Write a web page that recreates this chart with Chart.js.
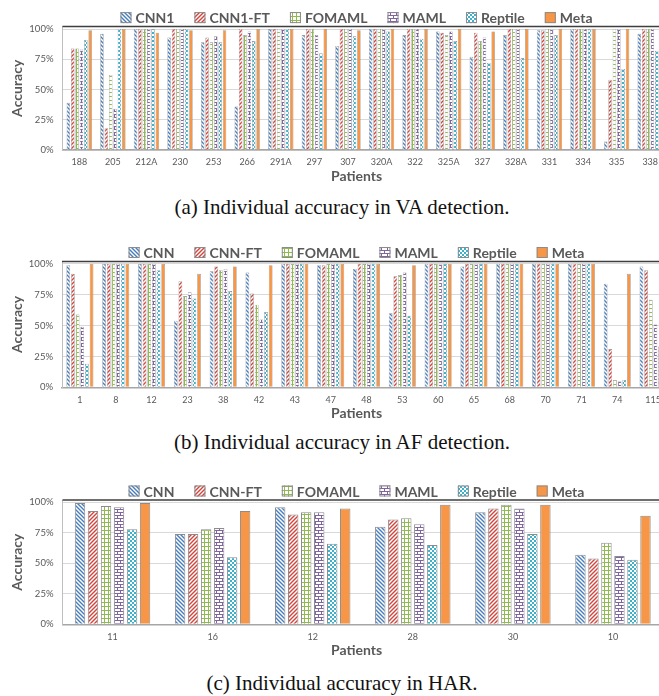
<!DOCTYPE html>
<html>
<head>
<meta charset="utf-8">
<script src="https://cdn.jsdelivr.net/npm/chart.js@4.4.1/dist/chart.umd.min.js"></script>
<style>
    html, body { margin: 0; padding: 0; background: #fff; }
    body { width: 659px; height: 696px; overflow: hidden; position: relative; }
    canvas { position: absolute; left: 0; }
    .cap {
        position: absolute; left: 0; width: 684px; text-align: center;
        font-family: "Liberation Serif", "DejaVu Serif", serif; font-size: 21px;
        line-height: 24px; color: #111; white-space: nowrap;
    }
</style>
</head>
<body>
<canvas id="vaChart"></canvas>
<canvas id="afChart"></canvas>
<canvas id="harChart"></canvas>
<div class="cap" style="top:195px">(a) Individual accuracy in VA detection.</div>
<div class="cap" style="top:430px">(b) Individual accuracy in AF detection.</div>
<div class="cap" style="top:671px">(c) Individual accuracy in HAR.</div>

<script>
// (a) VA detection
const vaPatients = ['188', '205', '212A', '230', '253', '266', '291A', '297', '307', '320A', '322', '325A', '327', '328A', '331', '334', '335', '338'];
const vaNames = ['CNN1', 'CNN1-FT', 'FOMAML', 'MAML', 'Reptile', 'Meta'];
const vaCNN1    = [39, 96, 100, 93, 89, 36, 100, 95, 86, 100, 95, 98, 77, 95, 99, 100, 7, 96];
const vaCNN1FT  = [84, 18, 100, 100, 93, 100, 100, 100, 100, 100, 100, 97, 97, 100, 99, 100, 58, 100];
const vaFOMAML  = [84, 62, 100, 100, 89, 95, 100, 100, 100, 100, 100, 95, 90, 100, 100, 100, 100, 100];
const vaMAML    = [83, 34, 100, 100, 94, 98, 100, 95, 100, 100, 100, 98, 93, 100, 100, 100, 100, 100];
const vaReptile = [91, 100, 100, 100, 89, 90, 100, 80, 94, 98, 92, 90, 72, 76, 95, 100, 67, 82];
const vaMeta    = [99, 100, 97, 99, 99, 100, 100, 100, 99, 100, 100, 100, 98, 100, 100, 100, 100, 99];

// (b) AF detection
const afPatients = ['1', '8', '12', '23', '38', '42', '43', '47', '48', '53', '60', '65', '68', '70', '71', '74', '115'];
const afNames = ['CNN', 'CNN-FT', 'FOMAML', 'MAML', 'Reptile', 'Meta'];
const afCNN     = [99, 100, 100, 54, 94, 93, 100, 99, 96, 60, 100, 98, 100, 100, 100, 84, 98];
const afCNNFT   = [92, 100, 100, 86, 98, 76, 100, 99, 100, 90, 100, 100, 100, 100, 100, 31, 95];
const afFOMAML  = [59, 100, 100, 74, 95, 67, 100, 100, 100, 91, 100, 100, 100, 100, 100, 6, 71];
const afMAML    = [49, 100, 100, 77, 96, 55, 100, 100, 100, 93, 100, 100, 100, 100, 100, 5, 51];
const afReptile = [19, 100, 95, 72, 78, 61, 100, 100, 100, 58, 100, 100, 100, 100, 100, 6, 33];
const afMeta    = [100, 100, 100, 92, 98, 99, 100, 100, 100, 99, 100, 100, 100, 100, 100, 92, 97];

// (c) HAR
const harPatients = ['11', '16', '12', '28', '30', '10'];
const harNames = ['CNN', 'CNN-FT', 'FOMAML', 'MAML', 'Reptile', 'Meta'];
const harCNN     = [99.5, 74, 96, 80, 92, 57];
const harCNNFT   = [93, 74, 90, 86, 95, 54];
const harFOMAML  = [97, 78, 92, 87, 98, 67];
const harMAML    = [96, 79, 92, 82, 95, 56];
const harReptile = [78, 55, 66, 65, 74, 53];
const harMeta    = [99.5, 93, 95, 98, 98, 89];

const yTicks = [0, 25, 50, 75, 100];

const TEXT = '#595959';
const FONT = 'Lato, "Open Sans", sans-serif';

// hatch patterns like the Excel fills
function makePattern(w, h, draw) {
    const c = document.createElement('canvas');
    c.width = w; c.height = h;
    const g = c.getContext('2d');
    g.fillStyle = '#fff';
    g.fillRect(0, 0, w, h);
    draw(g);
    return g.createPattern(c, 'repeat');
}

function diag(color, down) {
    return makePattern(4, 4, g => {
        g.strokeStyle = color; g.lineWidth = 1.4;
        const segs = down
            ? [[-1, -1, 5, 5], [-1, 3, 1, 5], [3, -1, 5, 1]]
            : [[-1, 5, 5, -1], [-1, 1, 1, -1], [3, 5, 5, 3]];
        segs.forEach(s => { g.beginPath(); g.moveTo(s[0], s[1]); g.lineTo(s[2], s[3]); g.stroke(); });
    });
}

const fills = [
    diag('#4a7ebb', true),
    diag('#d0463f', false),
    makePattern(4, 4, g => {
        g.fillStyle = '#8fba4e';
        g.fillRect(0, 0, 4, 1);
        g.fillRect(0, 0, 1, 4);
    }),
    makePattern(6, 6, g => {
        g.fillStyle = '#8064a2';
        g.fillRect(0, 0, 6, 1);
        g.fillRect(0, 3, 6, 1);
        g.fillRect(0, 0, 1, 3);
        g.fillRect(3, 3, 1, 3);
    }),
    makePattern(4, 4, g => {
        g.fillStyle = '#3fb0c9';
        g.fillRect(0, 0, 2, 2);
        g.fillRect(2, 2, 2, 2);
    }),
    '#f79646'
];

// legend, top frame line and axis titles
const decor = {
    id: 'decor',
    afterDraw(chart, args, opts) {
        const { ctx, chartArea: a } = chart;
        ctx.save();
        ctx.strokeStyle = '#3f3f3f';
        ctx.lineWidth = 1.5;
        ctx.beginPath();
        ctx.moveTo(a.left, a.top);
        ctx.lineTo(a.right + 20, a.top);
        ctx.stroke();

        ctx.font = 'bold 14px ' + FONT;
        const sets = chart.data.datasets;
        const widths = sets.map(d => 15 + ctx.measureText(d.label).width);
        const total = widths.reduce((s, w) => s + w, 0) + 20 * (sets.length - 1);
        let x = opts.centerX - total / 2;
        const y = a.top - 9;
        ctx.textBaseline = 'middle';
        ctx.textAlign = 'left';
        sets.forEach((d, i) => {
            ctx.fillStyle = d.backgroundColor;
            ctx.fillRect(x, y - 5.5, 11, 11);
            ctx.strokeStyle = '#8c8c8c';
            ctx.lineWidth = 1;
            ctx.strokeRect(x + 0.5, y - 5, 10, 10);
            ctx.fillStyle = TEXT;
            ctx.fillText(d.label, x + 15, y + 1);
            x += widths[i] + 20;
        });

        ctx.textAlign = 'center';
        ctx.fillText('Patients', opts.centerX, a.bottom + 26.5);
        ctx.translate(17, (a.top + a.bottom) / 2);
        ctx.rotate(-Math.PI / 2);
        ctx.fillText('Accuracy', 0, 0);
        ctx.restore();
    }
};

function buildChart(id, p, labels, names, series) {
    const cv = document.getElementById(id);
    cv.width = 690;
    cv.height = p.height;
    cv.style.top = p.top + 'px';
    new Chart(cv, {
        type: 'bar',
        data: {
            labels: labels,
            datasets: series.map((s, i) => ({
                label: names[i],
                data: s,
                backgroundColor: fills[i],
                borderColor: '#8c8c8c',
                borderWidth: p.border,
                categoryPercentage: 0.78,
                barPercentage: 0.8
            }))
        },
        options: {
            responsive: false,
            animation: false,
            devicePixelRatio: 1,
            layout: { padding: { top: p.chartTop - p.top, right: 690 - p.right, left: 0, bottom: 0 } },
            plugins: {
                legend: { display: false },
                tooltip: { enabled: false },
                decor: { centerX: 356.5 }
            },
            scales: {
                x: {
                    grid: { display: false, drawTicks: false },
                    border: { display: true, color: '#a6a6a6', width: 1.5 },
                    ticks: { color: TEXT, font: { family: FONT, size: 9 }, padding: 7, autoSkip: false, maxRotation: 0 },
                    afterFit: s => { s.height = p.top + p.height - p.chartBottom; }
                },
                y: {
                    min: 0,
                    max: 102,
                    afterBuildTicks: s => { s.ticks = yTicks.map(v => ({ value: v })); },
                    grid: { color: '#d9d9d9', lineWidth: 1, drawTicks: false },
                    border: { display: true, color: '#bfbfbf', width: 1 },
                    ticks: { color: TEXT, font: { family: FONT, size: 9.5 }, padding: 9, callback: v => v + '%' },
                    afterFit: s => { s.width = p.left; }
                }
            }
        },
        plugins: [decor]
    });
}

function drawAll() {
    buildChart('vaChart', { top: 0, height: 186, chartTop: 26.6, chartBottom: 150, left: 62.5, right: 667, border: 0.6 },
        vaPatients, vaNames, [vaCNN1, vaCNN1FT, vaFOMAML, vaMAML, vaReptile, vaMeta]);
    buildChart('afChart', { top: 232, height: 190, chartTop: 261.5, chartBottom: 387.3, left: 62, right: 671, border: 0.6 },
        afPatients, afNames, [afCNN, afCNNFT, afFOMAML, afMAML, afReptile, afMeta]);
    buildChart('harChart', { top: 470, height: 192, chartTop: 500, chartBottom: 624.3, left: 62.5, right: 663, border: 1 },
        harPatients, harNames, [harCNN, harCNNFT, harFOMAML, harMAML, harReptile, harMeta]);
}

Promise.all([
    document.fonts.load('bold 14px Lato'),
    document.fonts.load('9.5px Lato')
]).then(drawAll, drawAll);
</script>
</body>
</html>
